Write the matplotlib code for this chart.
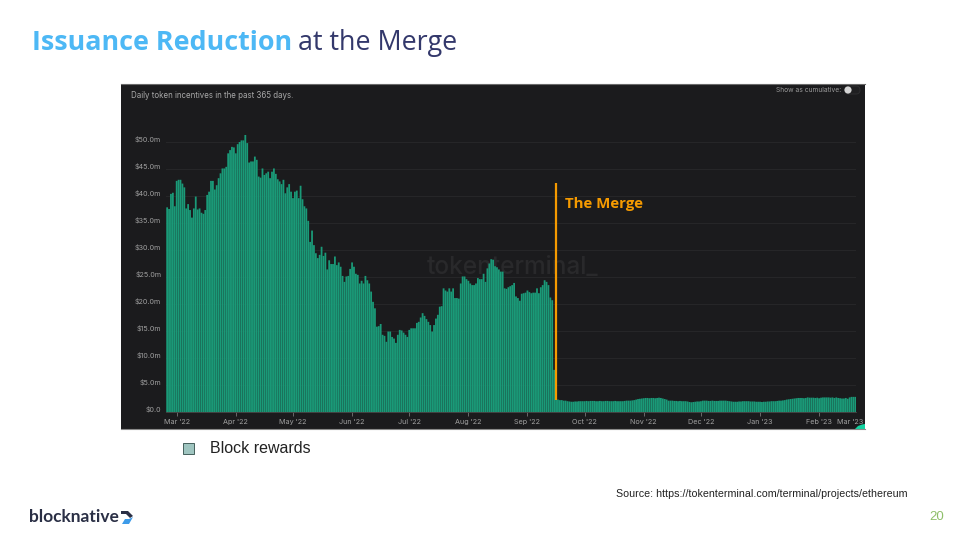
#
# Issuance reduction at the merge - slide with daily token incentives
#
import numpy as np
import pandas as pd
import matplotlib
matplotlib.use('Agg')
import matplotlib.pyplot as plt
from matplotlib.patches import Rectangle, Polygon, Circle, FancyBboxPatch
from matplotlib.transforms import ScaledTranslation

# daily values in $m
feb_22 = [37.9, 37.6, 40.4, 40.6, 38.1]
mar_22 = [42.8, 43.0, 43.0, 42.3, 41.6, 37.7, 38.5, 37.4, 36.0, 37.7, 39.9, 37.5, 37.7, 36.9, 36.7, 37.4,
          40.2, 40.8, 42.8, 42.8, 41.2, 42.0, 43.3, 44.2, 45.1, 45.1, 45.4, 47.9, 48.5, 49.1, 49.0]
apr_22 = [47.9, 49.6, 50.0, 50.3, 50.3, 51.3, 49.8, 46.2, 46.4, 46.4, 47.3, 46.7, 43.6, 43.4, 45.1,
          43.9, 44.2, 44.5, 43.3, 44.5, 45.1, 44.1, 43.1, 42.7, 42.2, 43.0, 40.5, 41.6, 42.2, 40.8]
may_22 = [39.6, 40.8, 41.0, 39.6, 41.9, 39.4, 38.1, 37.7, 35.4, 31.5, 33.6, 30.9, 29.4, 28.5, 29.1, 30.6,
          28.9, 29.5, 26.4, 28.1, 27.4, 27.4, 28.8, 27.2, 27.7, 26.9, 25.2, 24.1, 25.1, 25.2, 26.5]
jun_22 = [27.7, 26.9, 25.6, 25.4, 23.8, 24.3, 23.8, 25.2, 24.4, 23.8, 22.3, 20.4, 19.2, 15.8, 15.9,
          16.3, 14.3, 14.1, 13.0, 14.9, 14.9, 13.9, 13.6, 12.8, 14.3, 15.2, 15.1, 14.7, 14.3, 13.9]
jul_22 = [15.2, 15.5, 15.5, 15.5, 16.5, 16.7, 17.5, 18.3, 17.8, 17.2, 16.7, 16.1, 14.9, 16.1, 17.3, 18.0,
          19.5, 19.6, 22.9, 22.5, 22.3, 22.9, 22.3, 22.9, 21.1, 21.1, 21.0, 23.8, 25.1, 25.1, 24.6]
aug_22 = [24.3, 23.8, 23.5, 23.5, 23.8, 24.8, 24.6, 24.6, 25.6, 24.1, 26.6, 27.5, 28.3, 28.2, 27.0, 26.8,
          26.4, 26.0, 26.0, 22.9, 22.8, 23.1, 23.3, 23.5, 23.9, 21.4, 21.1, 20.6, 21.9, 22.0, 22.1]
sep_22 = [22.5, 22.2, 22.0, 22.1, 22.1, 22.9, 22.0, 23.1, 23.5, 24.4, 24.1, 23.5, 21.2, 20.7, 7.8,
          2.4, 2.3, 2.2, 2.2, 2.1, 2.1, 2.0, 1.95, 1.9, 1.9, 1.95, 1.95, 2.0, 2.0, 2.0]
oct_22 = [2.0, 2.05, 2.0, 2.05, 2.05, 2.05, 2.0, 2.0, 2.05, 2.0, 2.0, 2.05, 2.05, 2.0, 2.0, 2.0,
          2.05, 2.0, 2.0, 2.0, 2.0, 2.05, 2.1, 2.1, 2.1, 2.15, 2.2, 2.3, 2.4, 2.45, 2.5]
nov_22 = [2.55, 2.6, 2.6, 2.55, 2.6, 2.6, 2.55, 2.6, 2.65, 2.6, 2.5, 2.4, 2.3, 2.1, 2.1,
          2.1, 2.05, 2.05, 2.0, 2.05, 2.0, 2.0, 2.0, 1.95, 1.85, 1.8, 1.85, 1.9, 1.95, 1.95]
dec_22 = [2.0, 2.1, 2.1, 2.1, 2.05, 2.05, 2.1, 2.05, 2.05, 2.05, 2.1, 2.1, 2.1, 2.1, 2.05, 2.0,
          1.95, 1.9, 1.9, 1.9, 1.95, 1.95, 2.0, 2.0, 2.0, 2.0, 1.95, 1.95, 1.95, 1.9, 1.9]
jan_23 = [1.9, 1.85, 1.9, 1.9, 1.95, 1.95, 2.0, 2.0, 2.0, 2.05, 2.1, 2.1, 2.15, 2.2, 2.3, 2.35,
          2.4, 2.45, 2.5, 2.55, 2.6, 2.6, 2.6, 2.55, 2.6, 2.7, 2.65, 2.65, 2.65, 2.6, 2.65]
feb_23 = [2.55, 2.65, 2.7, 2.7, 2.7, 2.7, 2.65, 2.7, 2.6, 2.7, 2.6, 2.55, 2.5, 2.5, 2.6, 2.45,
          2.7, 2.8, 2.8, 2.8]

y_ticks = [0, 5, 10, 15, 20, 25, 30, 35, 40, 45, 50]
y_labels = ['$0.0', '$5.0m', '$10.0m', '$15.0m', '$20.0m', '$25.0m', '$30.0m', '$35.0m', '$40.0m',
            '$45.0m', '$50.0m']
month_ticks = ['2022-03-01', '2022-04-01', '2022-05-01', '2022-06-01', '2022-07-01', '2022-08-01',
               '2022-09-01', '2022-10-01', '2022-11-01', '2022-12-01', '2023-01-01', '2023-02-01']
month_labels = ["Mar '22", "Apr '22", "May '22", "Jun '22", "Jul '22", "Aug '22", "Sep '22", "Oct '22",
                "Nov '22", "Dec '22", "Jan '23", "Feb '23"]
merge_day = '2022-09-16'
merge_top = 42.4
merge_bottom = 2.2

verdier = np.concatenate([feb_22, mar_22, apr_22, may_22, jun_22, jul_22, aug_22, sep_22,
                          oct_22, nov_22, dec_22, jan_23, feb_23])
dager = pd.date_range('2022-02-24', periods=len(verdier))

W, H = 960, 540
fig = plt.figure(figsize=(W / 100, H / 100), dpi=100, facecolor='white')

# slide layer, works in picture pixels
slide = fig.add_axes([0, 0, 1, 1])
slide.set_xlim(0, W)
slide.set_ylim(H, 0)
slide.axis('off')

slide.text(32, 50, 'Issuance Reduction', color='#4db8f5', fontsize=19.4, fontweight='bold', family='Open Sans')
slide.text(298, 50, 'at the Merge', color='#33386b', fontsize=19.4, fontweight='medium', family='Open Sans')

# dark panel
slide.add_patch(Rectangle((121, 84), 744, 345, facecolor='#1b1b1d', edgecolor='none'))
slide.plot([121, 865], [84, 84], color='#6a6a6a', lw=0.8)
slide.plot([121, 865], [429, 429], color='#8a8a8a', lw=0.8)
slide.text(131, 96, 'Daily token incentives in the past 365 days.', color='#a8a8a8', fontsize=5.7,
           va='center', family='Inter')
slide.text(841, 90, 'Show as cumulative:', color='#9a9a9a', fontsize=4.8, va='center', ha='right', family='Inter')
slide.add_patch(FancyBboxPatch((845, 86), 15, 8, boxstyle='round,pad=0,rounding_size=4', facecolor='#1f1f21',
                               edgecolor='#2c2c2e', lw=0.8))
slide.add_patch(Circle((848, 90), 3.6, facecolor='#d4d4d4', edgecolor='none'))
slide.add_patch(Polygon([(855, 429), (858, 426), (862, 424.5), (865, 424), (865, 429)],
                        facecolor='#12d3a0', edgecolor='none'))
slide.text(427, 267, 'tokenterminal_', color='#29292b', fontsize=17.6, fontweight='medium', va='center',
           family='Inter')

# legend
slide.add_patch(Rectangle((183, 443), 11, 11, facecolor='#9fc5c0', edgecolor='#45605c', lw=0.7))
slide.text(210, 448.5, 'Block rewards', color='#222222', fontsize=11.5, va='center', family='Liberation Sans')

slide.text(616, 494, 'Source: https://tokenterminal.com/terminal/projects/ethereum', color='#222222',
           fontsize=7.68, va='center', family='Liberation Sans')
slide.text(929, 517, '20', color='#8fbf6a', fontsize=9.5, va='center', family='Liberation Sans')

# logo
slide.text(29, 517, 'blocknative', color='#2a2f45', fontsize=12.5, fontweight='bold', va='center', family='Lato')
slide.add_patch(Polygon([(121, 511), (128, 511), (133, 516), (130, 518), (126, 514), (121, 514)],
                        facecolor='#2a2f45', edgecolor='none'))
slide.add_patch(Polygon([(133, 517), (129, 524), (122, 524), (125, 519), (129, 519)],
                        facecolor='#3d9be9', edgecolor='none'))

# chart layer, x runs from 166 to 856 px and y from 412 px upwards
left, right, bottom, top = 166.2, 856.3, 412, 84
ax = fig.add_axes([left / W, 1 - bottom / H, (right - left) / W, (bottom - top) / H])
ax.patch.set_alpha(0)
# snap off, otherwise the bars land on whole pixels and the gaps get uneven
ax.bar(dager, verdier, width=0.94, color='#1a9a78', linewidth=0, zorder=3, snap=False)
ax.set_xlim(dager[0] - pd.Timedelta(hours=12), dager[-1] + pd.Timedelta(hours=12))
ax.set_ylim(0, (bottom - top) / 5.4)

ax.set_yticks(y_ticks)
ax.set_yticklabels(y_labels, color='#a0a0a0', fontsize=5.2, family='Inter')
ax.set_xticks(pd.to_datetime(month_ticks))
ax.set_xticklabels(month_labels, color='#a0a0a0', fontsize=5.2, family='Inter')
ax.tick_params(axis='y', length=0, pad=3.5)
ax.tick_params(axis='x', length=3, width=0.7, color='#6a6a6a', pad=2.2)
opp = ScaledTranslation(0, 3 / 100, fig.dpi_scale_trans)  # y labels sit a bit above their grid line
for lab in ax.get_yticklabels():
    lab.set_transform(lab.get_transform() + opp)
ax.grid(axis='y', color='#262628', lw=0.8, zorder=1)
ax.set_axisbelow(True)
for side in ['top', 'right', 'left']:
    ax.spines[side].set_visible(False)
ax.spines['bottom'].set_color('#4a4a4a')
ax.spines['bottom'].set_linewidth(0.6)

# the last month label has no tick, it is pushed in from the edge of the chart
slide.text(850, 421.5, "Mar '23", color='#a0a0a0', fontsize=5.2, ha='center', va='center', family='Inter')

# the merge marker
merge_x = pd.Timestamp(merge_day)
ax.plot([merge_x, merge_x], [merge_bottom, merge_top], color='#f59a00', lw=1.6, zorder=5, solid_capstyle='butt')
ax.annotate('The Merge', (merge_x, 38.5), xytext=(6.5, 0), textcoords='offset points', color='#f59a00',
            fontsize=10.8, fontweight='bold', va='center', family='Open Sans', zorder=6)

fig.savefig('out.png', dpi=100)
